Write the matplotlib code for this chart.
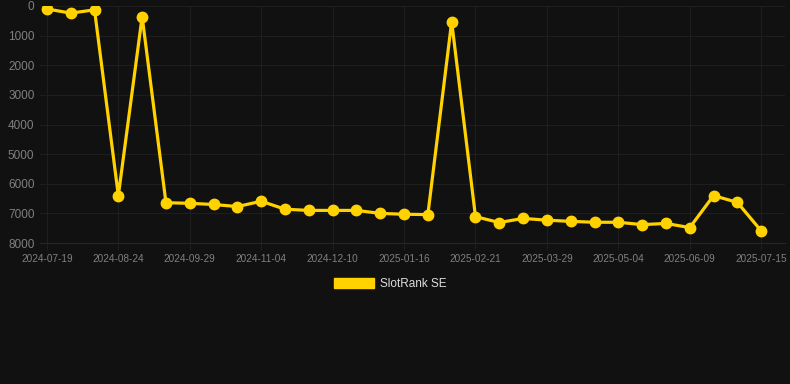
import matplotlib
matplotlib.use("Agg")
import matplotlib.pyplot as plt
from matplotlib.patches import Patch

# Rank values (lower is better), sampled every 12 days
dates = ["2024-07-19", "2024-07-31", "2024-08-12", "2024-08-24", "2024-09-05",
         "2024-09-17", "2024-09-29", "2024-10-11", "2024-10-23", "2024-11-04",
         "2024-11-16", "2024-11-28", "2024-12-10", "2024-12-22", "2025-01-03",
         "2025-01-16", "2025-01-28", "2025-02-09", "2025-02-21", "2025-03-05",
         "2025-03-17", "2025-03-29", "2025-04-10", "2025-04-22", "2025-05-04",
         "2025-05-16", "2025-05-28", "2025-06-09", "2025-06-21", "2025-07-03",
         "2025-07-15"]
ranks = [100, 240, 130, 6400, 360, 6640, 6660, 6700, 6770, 6590,
         6860, 6900, 6900, 6900, 7000, 7030, 7040, 530, 7110, 7310,
         7170, 7230, 7270, 7300, 7300, 7380, 7340, 7480, 6400, 6630,
         7590]
series_name = "SlotRank SE"

bg = "#111111"
grid_col = "#1e1e1e"
text_col = "#808080"
gold = "#FFD200"

plt.rcParams["font.family"] = ["Liberation Sans", "DejaVu Sans"]

fig = plt.figure(figsize=(7.9, 3.84), dpi=100, facecolor=bg)
ax = fig.add_axes([40 / 790, 1 - 243 / 384, 745 / 790, 237 / 384])
ax.set_facecolor(bg)

x = list(range(len(dates)))
ax.plot(x, ranks, color=gold, lw=2.3, marker="o", ms=7.5,
        solid_joinstyle="miter", zorder=3)

ax.set_ylim(8000, 0)
ax.set_xlim(-0.29, 31.0)
ax.set_yticks(range(0, 8001, 1000))
ax.set_xticks(x[::3])
ax.set_xticklabels(dates[::3])

ax.grid(True, color=grid_col, lw=0.8)
for s in ["top", "right", "left"]:
    ax.spines[s].set_visible(False)
ax.spines["bottom"].set_color("#262626")
ax.tick_params(axis="y", length=0, pad=4, labelsize=8.5, labelcolor=text_col)
ax.tick_params(axis="x", length=5, color=grid_col, pad=3, labelsize=7.2,
               labelcolor=text_col)

fig.legend(handles=[Patch(color=gold, label=series_name)], loc="center",
           bbox_to_anchor=(390 / 790, 1 - 284 / 384), frameon=False,
           fontsize=8.5, labelcolor="#dddddd", handlelength=3.4,
           handleheight=1.0, handletextpad=0.5)

fig.savefig("out.png", dpi=100, facecolor=bg)
